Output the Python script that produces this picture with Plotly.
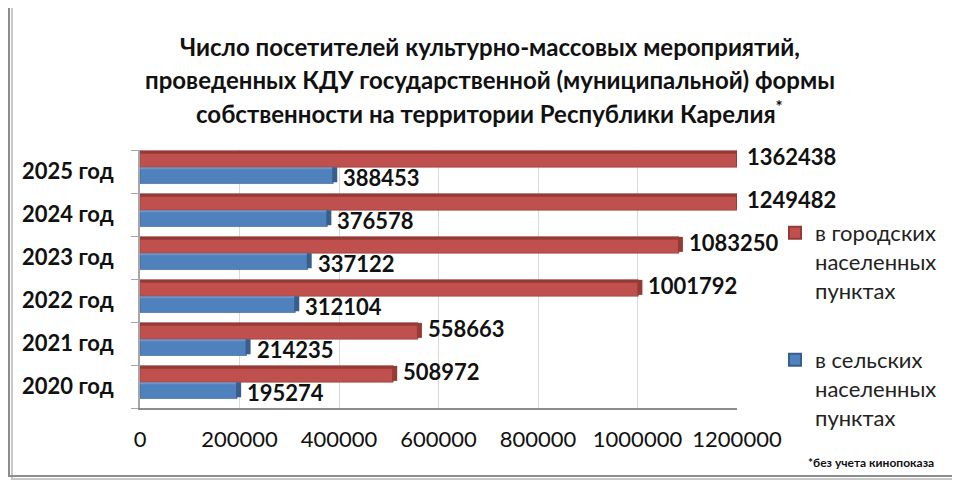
import plotly.graph_objects as go

# ── Data ──────────────────────────────────────────────────────────────────────
years = ["2020 год", "2021 год", "2022 год", "2023 год", "2024 год", "2025 год"]
urban = [508972, 558663, 1001792, 1083250, 1249482, 1362438]   # в городских
rural = [195274, 214235, 312104, 337122, 376578, 388453]       # в сельских
x_ticks = [0, 200000, 400000, 600000, 800000, 1000000, 1200000]

title_lines = [
    "Число посетителей культурно-массовых мероприятий,",
    "проведенных КДУ государственной (муниципальной) формы",
    "собственности на территории Республики Карелия<sup>*</sup>",
]
footnote = "*без учета кинопоказа"

RED, RED_DARK = "#C0504D", "#943B38"
BLUE, BLUE_DARK = "#4F81BD", "#385E8B"
FONT = "Lato, 'Open Sans', sans-serif"

# ── Geometry ──────────────────────────────────────────────────────────────────
# the page body adds an 8px margin, so the figure is drawn 8px in from the
# window's top-left corner; positions below are given in window pixels
OFF = 8
W, H = 960 - OFF, 480 - OFF
L, R, T, B = 140 - OFF, 223, 150 - OFF, 72
PW, PH = W - L - R, H - T - B
XMAX = x_ticks[-1]

# bar placement inside each category band (category units)
RED_OFF, RED_W = 0.1, 0.38
BLUE_OFF, BLUE_W = -0.28, 0.38


def px2x(px):
    return (px - OFF - L) / PW


def px2y(py):
    return (H - B - (py - OFF)) / PH


fig = go.Figure()

# rural first -> lower bar of each pair
fig.add_trace(go.Bar(
    y=years, x=rural, orientation="h", name="в сельских<br>населенных<br>пунктах",
    marker=dict(color=BLUE, line=dict(color=BLUE_DARK, width=0.6)),
    offset=BLUE_OFF, width=BLUE_W, legend="legend2",
))
fig.add_trace(go.Bar(
    y=years, x=urban, orientation="h", name="в городских<br>населенных<br>пунктах",
    marker=dict(color=RED, line=dict(color=RED_DARK, width=0.6)),
    offset=RED_OFF, width=RED_W, legend="legend",
))
# darker top face for the "3D" look
fig.add_trace(go.Bar(
    y=years, x=urban, orientation="h", showlegend=False, hoverinfo="skip",
    marker=dict(color=RED_DARK, line=dict(width=0)), offset=0.41, width=0.07,
))
fig.add_trace(go.Bar(
    y=years, x=rural, orientation="h", showlegend=False, hoverinfo="skip",
    marker=dict(color="#6F95C8", line=dict(width=0)), offset=0.05, width=0.05,
))

# end caps + value labels
for i, (u, r) in enumerate(zip(urban, rural)):
    for v, off, w, col in [(u, RED_OFF, RED_W, RED_DARK),
                           (r, BLUE_OFF, BLUE_W, BLUE_DARK)]:
        fig.add_shape(type="rect", xref="x", yref="y", xsizemode="pixel",
                      xanchor=min(v, XMAX), x0=-1, x1=4,
                      y0=i + off + 0.03, y1=i + off + w,
                      fillcolor=col, line=dict(width=0))
    fig.add_annotation(x=min(u, XMAX), y=i + 0.34, text=f"<b>{u}</b>",
                       showarrow=False, xanchor="left", xshift=8,
                       font=dict(size=22, color="#111", family=FONT))
    fig.add_annotation(x=min(r, XMAX), y=i - 0.13, text=f"<b>{r}</b>",
                       showarrow=False, xanchor="left", xshift=8,
                       font=dict(size=22, color="#111", family=FONT))

# title lines
for line, py in zip(title_lines, [47, 80, 112]):
    fig.add_annotation(xref="paper", yref="paper", x=px2x(490), y=px2y(py),
                       text=f"<b>{line}</b>", showarrow=False,
                       xanchor="center", yanchor="middle",
                       font=dict(size=24, color="#111", family=FONT))

fig.add_annotation(xref="paper", yref="paper", x=px2x(936), y=px2y(462),
                   text=f"<b>{footnote}</b>", showarrow=False,
                   xanchor="right", yanchor="middle",
                   font=dict(size=12, color="#111", family=FONT))

# chart frame with shadow (top edge lies above the visible area)
fig.add_shape(type="rect", xref="paper", yref="paper",
              x0=px2x(12), x1=px2x(960), y0=px2y(-10), y1=px2y(479),
              line=dict(color="#C8C8C8", width=2), layer="below")
fig.add_shape(type="rect", xref="paper", yref="paper",
              x0=px2x(9), x1=px2x(957), y0=px2y(-10), y1=px2y(476),
              line=dict(color="#8C8C8C", width=2), layer="below")

legend_common = dict(
    xref="paper", yref="paper", x=px2x(775), xanchor="left", yanchor="top",
    bgcolor="rgba(0,0,0,0)", valign="top", itemsizing="constant",
    font=dict(size=22, color="#222", family=FONT),
)

fig.update_layout(
    width=W, height=H,
    margin=dict(l=L, r=R, t=T, b=B),
    paper_bgcolor="white", plot_bgcolor="white",
    barmode="group",
    showlegend=True,
    legend=dict(y=px2y(212), **legend_common),
    legend2=dict(y=px2y(339), **legend_common),
    font=dict(family=FONT, color="#111"),
)

fig.update_xaxes(
    range=[0, XMAX], tickvals=x_ticks, tickformat="d",
    showgrid=True, gridcolor="#D9D9D9", gridwidth=1,
    showline=True, linecolor="#8C8C8C", linewidth=2,
    zeroline=False, ticks="", ticklabelstandoff=11,
    tickfont=dict(size=22, color="#111", family=FONT),
)
fig.update_yaxes(
    range=[-0.5, 5.5], showgrid=False,
    showline=True, linecolor="#A6A6A6", linewidth=2,
    ticks="outside", tickson="boundaries", ticklen=7, tickcolor="#A6A6A6",
    ticklabelstandoff=20,
    tickfont=dict(size=22, color="#111", family=FONT),
    tickprefix="<b>", ticksuffix="</b>",
)

fig.write_html("out.html")
